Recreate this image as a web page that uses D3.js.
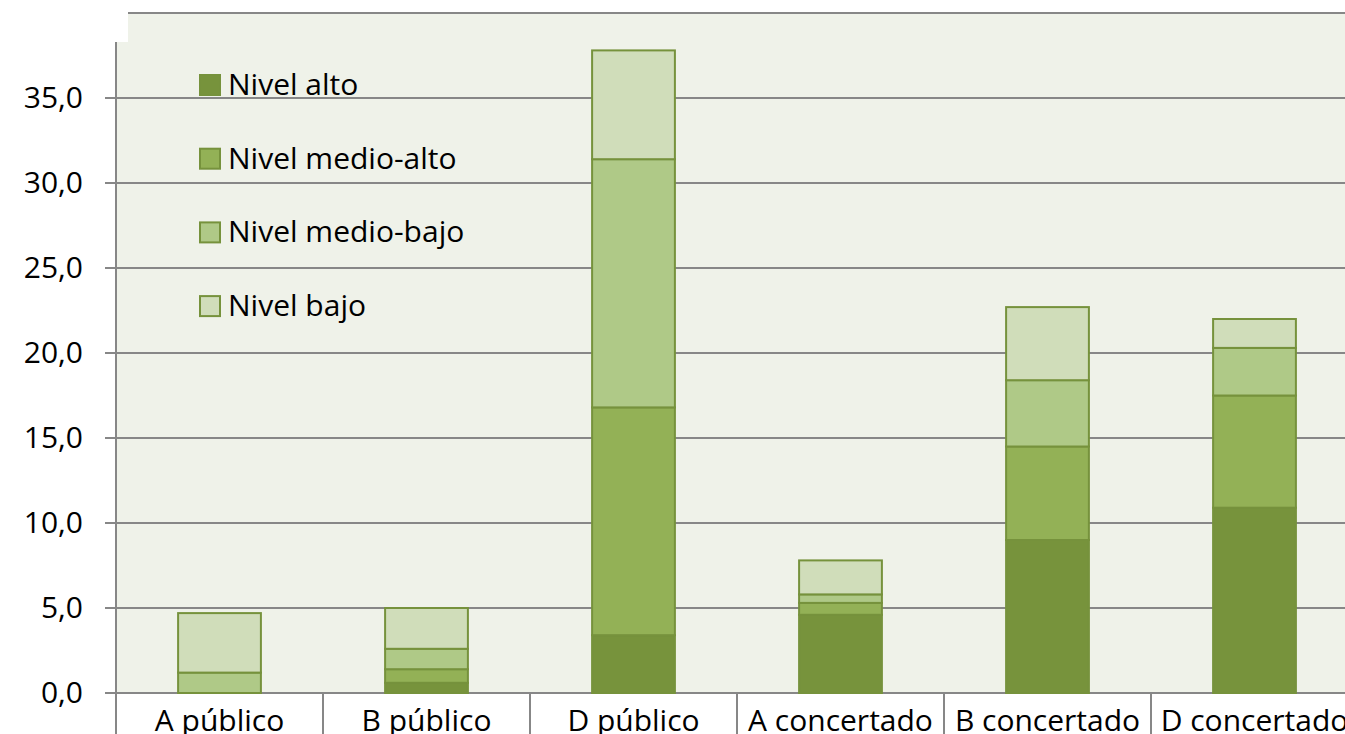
<!DOCTYPE html>
<html>
<head>
<meta charset="utf-8">
<script src="https://cdn.jsdelivr.net/npm/d3@7"></script>
<style>
    body { margin: 0; background: #ffffff; }
    svg { display: block; }
    text { font-family: "Open Sans", Lato, sans-serif; fill: #000000; }
</style>
</head>
<body>
<svg width="1345" height="734"></svg>
<script>
const categorias = ["A público", "B público", "D público", "A concertado", "B concertado", "D concertado"];
const niveles = ["Nivel alto", "Nivel medio-alto", "Nivel medio-bajo", "Nivel bajo"];
const nivelAlto = [0.0, 0.6, 3.4, 4.6, 9.0, 10.9];
const nivelMedioAlto = [0.0, 0.8, 13.4, 0.7, 5.5, 6.6];
const nivelMedioBajo = [1.2, 1.2, 14.6, 0.5, 3.9, 2.8];
const nivelBajo = [3.5, 2.4, 6.4, 2.0, 4.3, 1.7];
const yTicks = [0, 5, 10, 15, 20, 25, 30, 35];
const colores = ["#77933c", "#93b156", "#afc987", "#d0ddba"];

const svg = d3.select("svg"),
    width = +svg.attr("width"),
    height = +svg.attr("height");

const plotLeft = 116, plotBottom = 693, plotTop = 13;

const x = d3.scaleBand()
    .domain(categorias)
    .range([plotLeft, plotLeft + 6 * 207])
    .paddingInner(0.6)
    .paddingOuter(0.3);

const y = d3.scaleLinear()
    .domain([0, 40])
    .range([plotBottom, plotTop]);

// table for the stack
const tabla = categorias.map(function(c, i) {
    return {
        cat: c,
        "Nivel alto": nivelAlto[i],
        "Nivel medio-alto": nivelMedioAlto[i],
        "Nivel medio-bajo": nivelMedioBajo[i],
        "Nivel bajo": nivelBajo[i]
    };
});
const series = d3.stack().keys(niveles)(tabla);

// plot background
svg.append("rect")
    .attr("x", plotLeft)
    .attr("y", plotTop)
    .attr("width", width - plotLeft)
    .attr("height", plotBottom - plotTop)
    .attr("fill", "#eff2e9");

// gridlines
svg.append("g")
    .selectAll("line")
    .data(yTicks.concat([40]))
    .enter().append("line")
    .attr("x1", function(d) { return d === 0 ? plotLeft : plotLeft - 11; })
    .attr("x2", width)
    .attr("y1", function(d) { return y(d); })
    .attr("y2", function(d) { return y(d); })
    .attr("stroke", "#878787")
    .attr("stroke-width", 2);

// white box over the top-left corner (title area)
svg.append("rect")
    .attr("x", 0)
    .attr("y", 0)
    .attr("width", 128)
    .attr("height", 42)
    .attr("fill", "#ffffff");

// x axis area below the plot
svg.append("rect")
    .attr("x", 0)
    .attr("y", plotBottom + 1)
    .attr("width", width)
    .attr("height", height - plotBottom)
    .attr("fill", "#ffffff");

svg.append("line")
    .attr("x1", plotLeft - 11)
    .attr("x2", width)
    .attr("y1", plotBottom)
    .attr("y2", plotBottom)
    .attr("stroke", "#878787")
    .attr("stroke-width", 2);

// y axis line
svg.append("line")
    .attr("x1", plotLeft)
    .attr("x2", plotLeft)
    .attr("y1", 42)
    .attr("y2", height)
    .attr("stroke", "#878787")
    .attr("stroke-width", 2);

// category dividers
svg.append("g")
    .selectAll("line")
    .data(categorias.slice(1))
    .enter().append("line")
    .attr("x1", function(d) { return x(d) - x.step() * 0.3; })
    .attr("x2", function(d) { return x(d) - x.step() * 0.3; })
    .attr("y1", plotBottom)
    .attr("y2", height)
    .attr("stroke", "#878787")
    .attr("stroke-width", 2);

// bars
svg.append("g")
    .selectAll("g")
    .data(series)
    .enter().append("g")
    .attr("fill", function(d, i) { return colores[i]; })
    .selectAll("rect")
    .data(function(d) { return d; })
    .enter().append("rect")
    .attr("x", function(d) { return x(d.data.cat); })
    .attr("y", function(d) { return y(d[1]); })
    .attr("width", x.bandwidth())
    .attr("height", function(d) { return y(d[0]) - y(d[1]); })
    .attr("stroke", "#76923c")
    .attr("stroke-width", function(d) { return d[1] - d[0] > 0 ? 2 : 0; });

// y tick labels
svg.append("g")
    .selectAll("text")
    .data(yTicks)
    .enter().append("text")
    .attr("x", 83)
    .attr("y", function(d) { return y(d) + 10; })
    .attr("text-anchor", "end")
    .style("font-size", "30px")
    .text(function(d) { return d3.format(".1f")(d).replace(".", ","); });

// x labels
svg.append("g")
    .selectAll("text")
    .data(categorias)
    .enter().append("text")
    .attr("x", function(d) { return x(d) + x.bandwidth() / 2; })
    .attr("y", 731)
    .attr("text-anchor", "middle")
    .style("font-size", "30px")
    .text(function(d) { return d; });

// legend
const legend = svg.append("g")
    .selectAll("g")
    .data(niveles)
    .enter().append("g")
    .attr("transform", function(d, i) { return "translate(199," + (74 + i * 73.7) + ")"; });

legend.append("rect")
    .attr("x", 1)
    .attr("y", 1)
    .attr("width", 20)
    .attr("height", 20)
    .attr("fill", function(d, i) { return colores[i]; })
    .attr("stroke", "#76923c")
    .attr("stroke-width", 2);

legend.append("text")
    .attr("x", 29)
    .attr("y", 21)
    .style("font-size", "30px")
    .text(function(d) { return d; });
</script>
</body>
</html>
